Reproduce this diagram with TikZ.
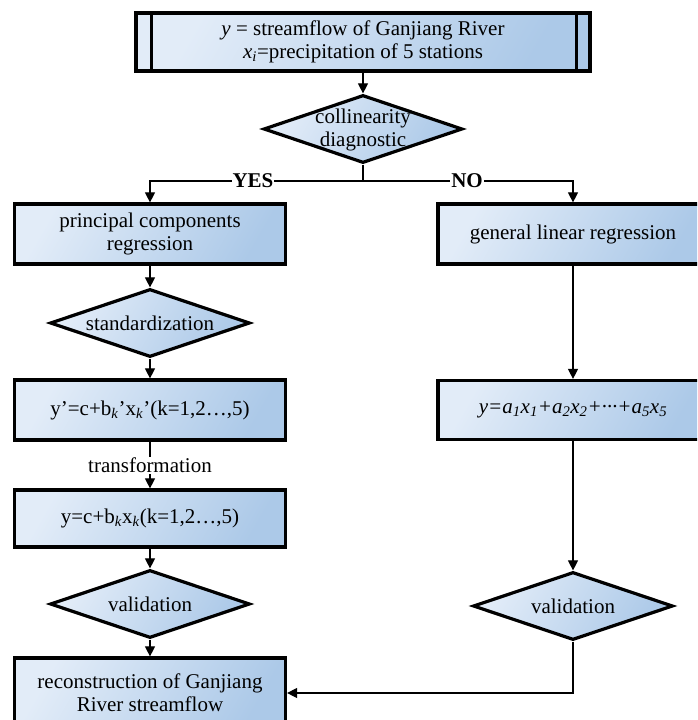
\documentclass[tikz,border=0pt]{standalone}
\usepackage{fontspec}
\setmainfont{Liberation Serif}
\usetikzlibrary{shapes.geometric,arrows.meta,calc}
\definecolor{gradA}{RGB}{226,236,248}
\definecolor{gradB}{RGB}{172,201,232}
\tikzset{
  box/.style={draw=black, line width=3.2pt, left color=gradA, right color=gradB, shading angle=60,
    inner sep=0pt, align=center, minimum width=271pt, minimum height=60pt},
  dia/.style={diamond, draw=black, line width=3.2pt, left color=gradA, right color=gradB, shading angle=60,
    inner sep=0pt, minimum width=200pt, minimum height=68pt},
  lbl/.style={inner sep=0pt, align=center},
  conn/.style={line width=1.1pt, -{Triangle[length=10pt,width=10pt]}},
  plain/.style={line width=1.1pt},
  yn/.style={fill=white, inner sep=1pt, font=\fontsize{21}{23}\selectfont\bfseries}
}
\begin{document}
\begin{tikzpicture}[x=1pt,y=-1pt,font=\fontsize{21}{23}\selectfont]
\useasboundingbox (0,0) rectangle (697,720);
\clip (0,0) rectangle (697,720);
% top box
\node[box, minimum width=454pt, minimum height=58pt] (t) at (363,42)
  {\textit{y} = streamflow of Ganjiang River\\\textit{x\textsubscript{i}}=precipitation of 5 stations};
\draw[line width=3.2pt] ([xshift=17pt]t.north west) -- ([xshift=17pt]t.south west);
\draw[line width=3.2pt] ([xshift=-15pt]t.north east) -- ([xshift=-15pt]t.south east);
% collinearity diamond
\node[dia, minimum width=199pt] (d1) at (363,129) {};
\node[lbl] (d1t) at (363,130) {collinearity\\diagnostic};
\coordinate (s) at (363,181);
% left column
\node[box] (L1) at (150,234) {principal components\\regression};
\node[dia] (d2) at (150,323) {};
\node[lbl] (d2t) at (d2) {standardization};
\node[box] (L2) at (150,410) {y’=c+b\textsubscript{\textit{k}}’x\textsubscript{\textit{k}}’(k=1,2…,5)};
\node[box, minimum height=57pt] (L3) at (150,518.5) {y=c+b\textsubscript{\textit{k}}x\textsubscript{\textit{k}}(k=1,2…,5)};
\node[dia] (d3) at (150,604) {};
\node[lbl] (d3t) at (d3) {validation};
\node[box, minimum height=70pt] (L4) at (150,693) {reconstruction of Ganjiang\\River streamflow};
% right column
\node[box, minimum width=270pt] (R1) at (573,234) {general linear regression};
\node[box, minimum width=270pt, minimum height=59pt] (R2) at (573,410)
  {\itshape y=a\textsubscript{1}x\textsubscript{1}+a\textsubscript{2}x\textsubscript{2}+···+a\textsubscript{5}x\textsubscript{5}};
\node[dia] (R3) at (573,606) {};
\node[lbl] (R3t) at (R3) {validation};
% connectors
\draw[conn] (t) -- (d1);
\draw[plain] (d1) -- (s);
\draw[conn] (s) -| (L1.north);
\draw[conn] (s) -| (R1.north);
\node[yn] (yes) at (253,181) {YES};
\node[yn] (no) at (467,181) {NO};
\draw[conn] (L1) -- (d2);
\draw[conn] (d2) -- (L2);
\draw[conn] (L2) -- node[fill=white, inner sep=1pt] (tr) {transformation} (L3);
\draw[conn] (L3) -- (d3);
\draw[conn] (d3) -- (L4);
\draw[conn] (R1) -- (R2);
\draw[conn] (R2) -- (R3);
\draw[conn] (R3.south) |- (L4.east);
\end{tikzpicture}
\end{document}
